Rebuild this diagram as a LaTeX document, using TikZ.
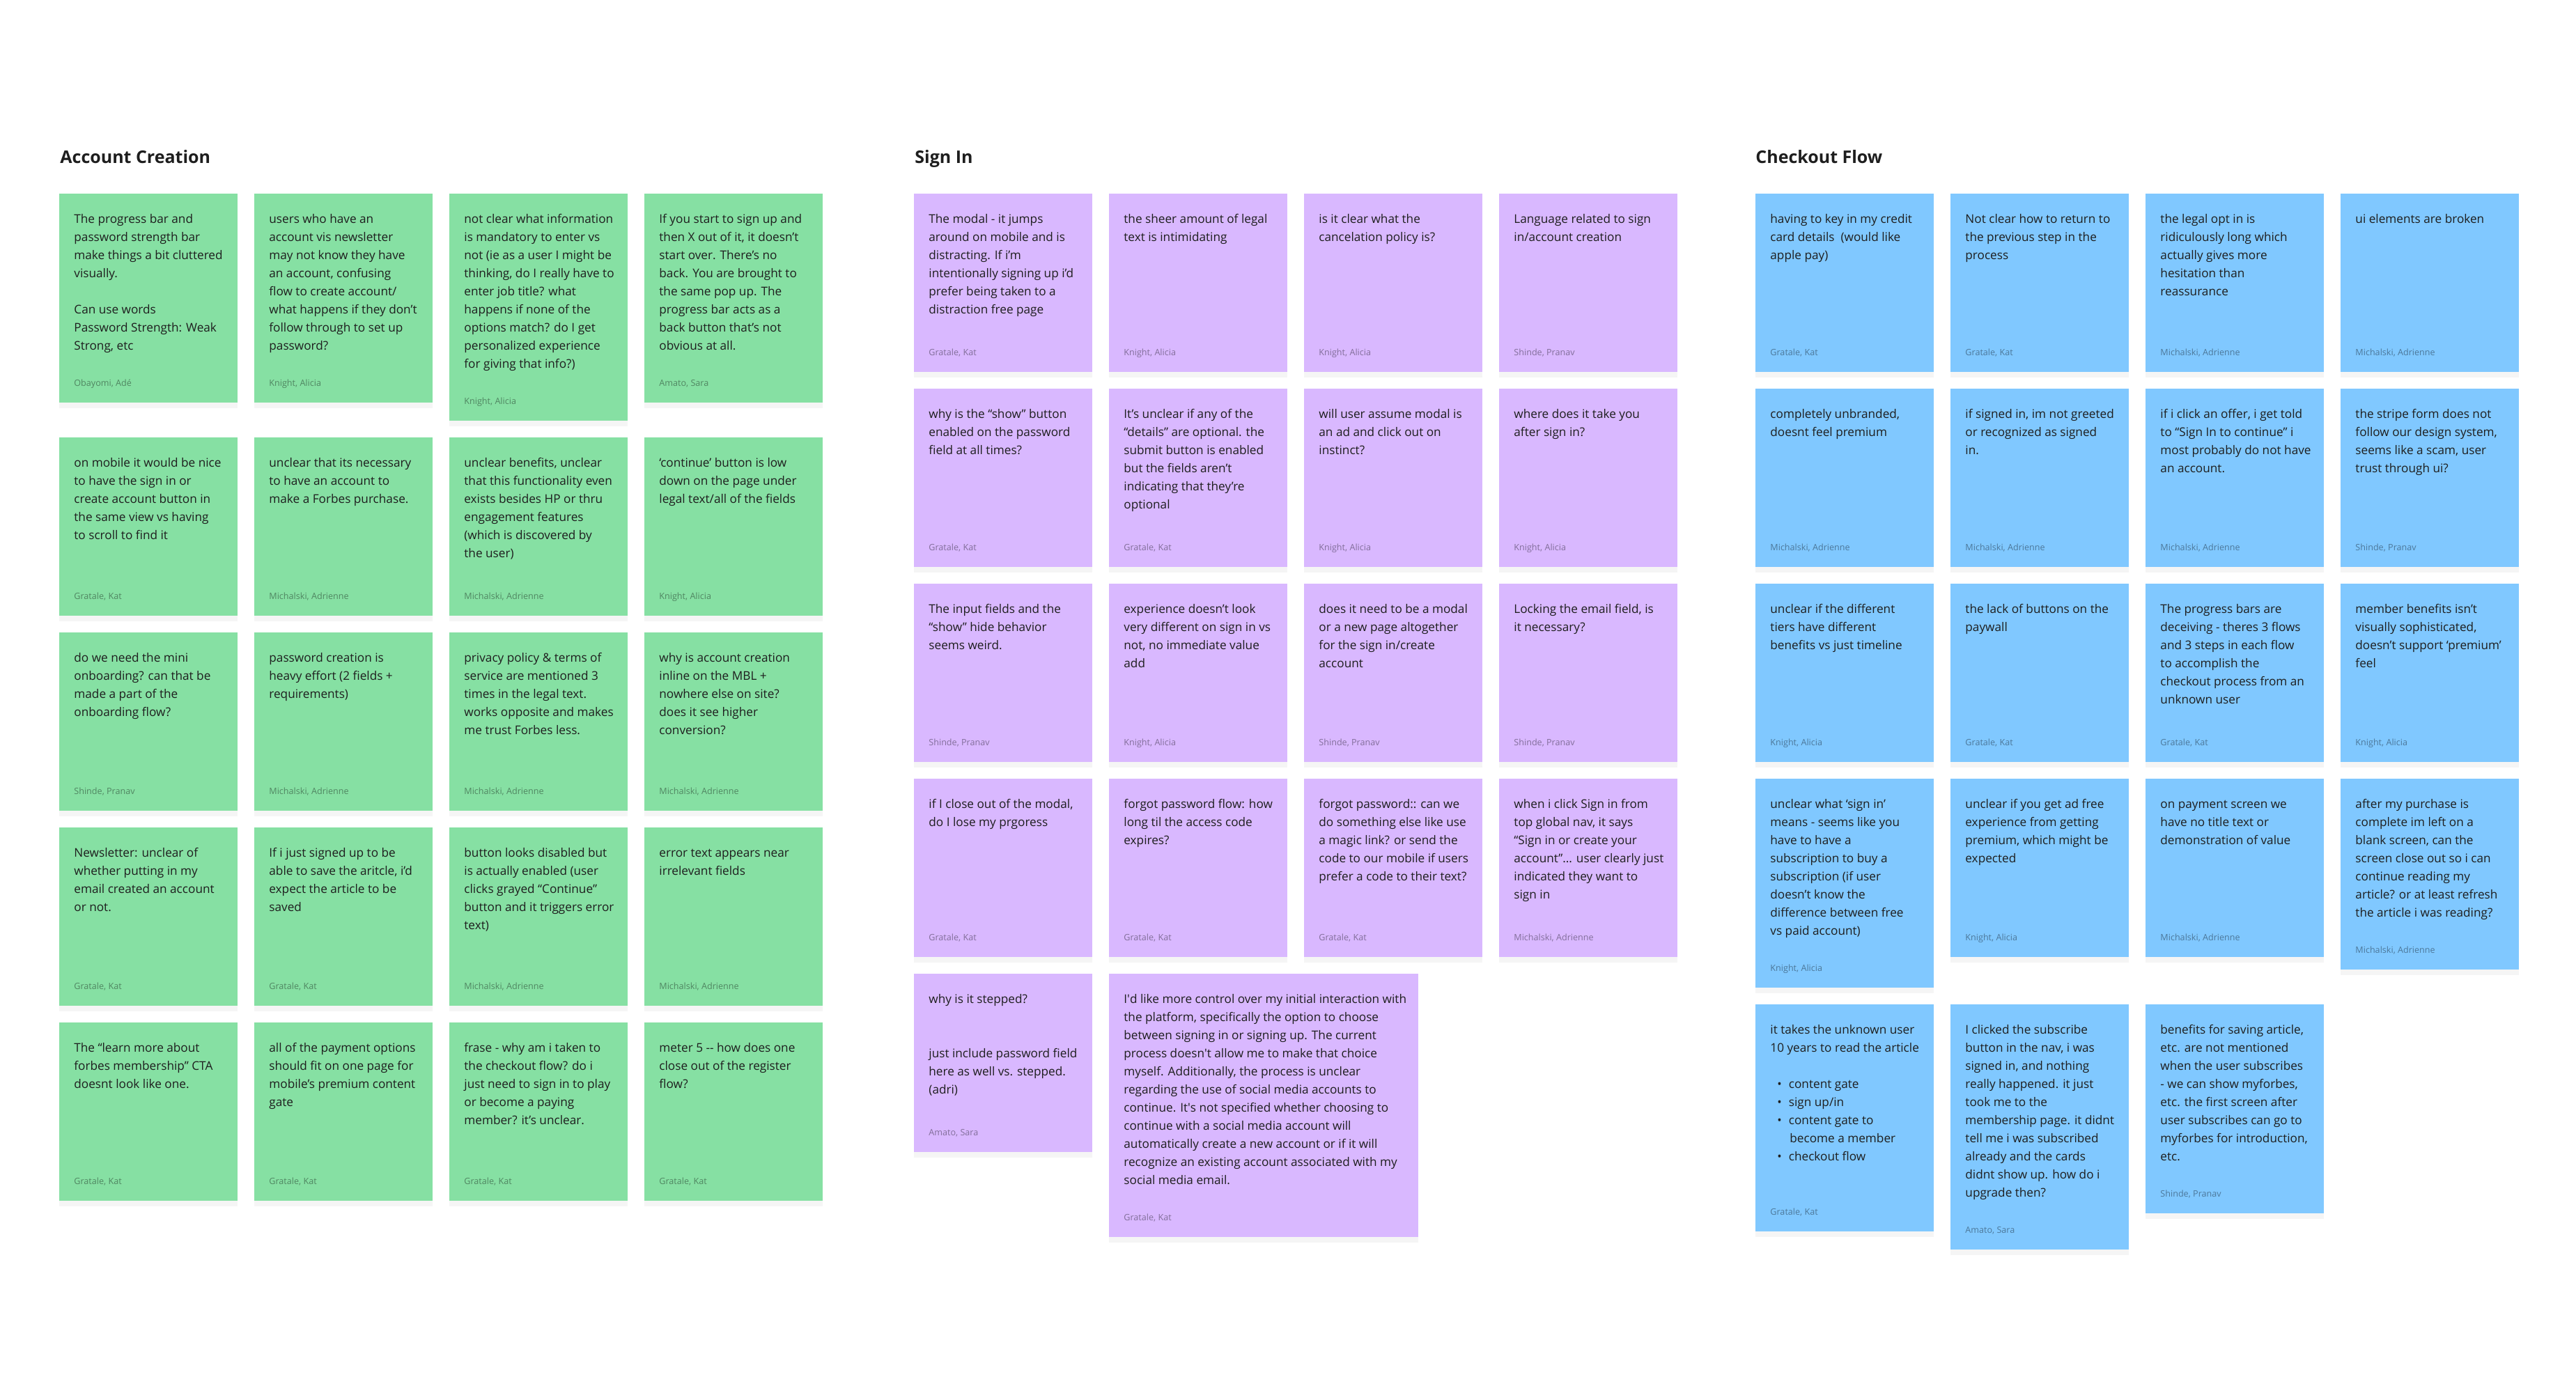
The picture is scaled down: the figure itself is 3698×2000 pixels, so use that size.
\documentclass[tikz,border=0pt]{standalone}
\usepackage{fontspec}
\setmainfont{Open Sans}
\usetikzlibrary{shadows}

\definecolor{acgreen}{HTML}{86E0A3}
\definecolor{sipurple}{HTML}{D9B8FF}
\definecolor{coblue}{HTML}{80C8FF}
\definecolor{inkdark}{HTML}{1E1E1E}

\tikzset{
  note/.style={anchor=north west, minimum width=128pt, inner sep=0pt, draw=none,
    drop shadow={opacity=0.08, shadow xshift=0pt, shadow yshift=-4pt}},
  ac/.style={note, fill=acgreen},
  si/.style={note, fill=sipurple},
  co/.style={note, fill=coblue},
  txt/.style={anchor=north west, inner sep=0pt, align=left, text=inkdark,
    font=\fontsize{8.6}{13}\selectfont},
  who/.style={anchor=base west, inner sep=0pt, text=black, text opacity=0.4,
    font=\fontsize{6.3}{8}\selectfont},
  head/.style={anchor=base west, inner sep=0pt, text=inkdark,
    font=\fontsize{12.5}{15}\selectfont\bfseries},
}

% sticky note: style, name, x, y, height, text, author
\newcommand{\sticky}[7]{%
  \node[#1, minimum height=#5*0.5pt] (#2) at (#3,#4) {};
  \node[txt] (#2t) at ([shift={(21,24)}]#2.north west) {\strut #6};
  \node[who] (#2a) at ([shift={(21,-24)}]#2.south west) {#7};
}

\begin{document}
\begin{tikzpicture}[x=0.5pt, y=-0.5pt]
  \fill[white] (0,0) rectangle (3698,2000);
  \useasboundingbox (0,0) rectangle (3698,2000);

  % group titles
  \node[head] (tac) at (86,235) {Account Creation};
  \node[head] (tsi) at (1313,235) {Sign In};
  \node[head] (tco) at (2520,235) {Checkout Flow};

  % Account Creation
  \sticky{ac}{a11}{85}{278}{300}{The progress bar and\\password strength bar\\make things a bit cluttered\\visually.\\[13pt]Can use words\\Password Strength: Weak\\Strong, etc}{Obayomi, Adé}
  \sticky{ac}{a12}{365}{278}{300}{users who have an\\account vis newsletter\\may not know they have\\an account, confusing\\flow to create account/\\what happens if they don’t\\follow through to set up\\password?}{Knight, Alicia}
  \sticky{ac}{a13}{645}{278}{326}{not clear what information\\is mandatory to enter vs\\not (ie as a user I might be\\thinking, do I really have to\\enter job title? what\\happens if none of the\\options match? do I get\\personalized experience\\for giving that info?)}{Knight, Alicia}
  \sticky{ac}{a14}{925}{278}{300}{If you start to sign up and\\then X out of it, it doesn’t\\start over. There’s no\\back. You are brought to\\the same pop up. The\\progress bar acts as a\\back button that’s not\\obvious at all.}{Amato, Sara}

  \sticky{ac}{a21}{85}{628}{256}{on mobile it would be nice\\to have the sign in or\\create account button in\\the same view vs having\\to scroll to find it}{Gratale, Kat}
  \sticky{ac}{a22}{365}{628}{256}{unclear that its necessary\\to have an account to\\make a Forbes purchase.}{Michalski, Adrienne}
  \sticky{ac}{a23}{645}{628}{256}{unclear benefits, unclear\\that this functionality even\\exists besides HP or thru\\engagement features\\(which is discovered by\\the user)}{Michalski, Adrienne}
  \sticky{ac}{a24}{925}{628}{256}{‘continue’ button is low\\down on the page under\\legal text/all of the fields}{Knight, Alicia}

  \sticky{ac}{a31}{85}{908}{256}{do we need the mini\\onboarding? can that be\\made a part of the\\onboarding flow?}{Shinde, Pranav}
  \sticky{ac}{a32}{365}{908}{256}{password creation is\\heavy effort (2 fields +\\requirements)}{Michalski, Adrienne}
  \sticky{ac}{a33}{645}{908}{256}{privacy policy \& terms of\\service are mentioned 3\\times in the legal text.\\works opposite and makes\\me trust Forbes less.}{Michalski, Adrienne}
  \sticky{ac}{a34}{925}{908}{256}{why is account creation\\inline on the MBL +\\nowhere else on site?\\does it see higher\\conversion?}{Michalski, Adrienne}

  \sticky{ac}{a41}{85}{1188}{256}{Newsletter: unclear of\\whether putting in my\\email created an account\\or not.}{Gratale, Kat}
  \sticky{ac}{a42}{365}{1188}{256}{If i just signed up to be\\able to save the aritcle, i’d\\expect the article to be\\saved}{Gratale, Kat}
  \sticky{ac}{a43}{645}{1188}{256}{button looks disabled but\\is actually enabled (user\\clicks grayed “Continue”\\button and it triggers error\\text)}{Michalski, Adrienne}
  \sticky{ac}{a44}{925}{1188}{256}{error text appears near\\irrelevant fields}{Michalski, Adrienne}

  \sticky{ac}{a51}{85}{1468}{256}{The “learn more about\\forbes membership” CTA\\doesnt look like one.}{Gratale, Kat}
  \sticky{ac}{a52}{365}{1468}{256}{all of the payment options\\should fit on one page for\\mobile’s premium content\\gate}{Gratale, Kat}
  \sticky{ac}{a53}{645}{1468}{256}{frase - why am i taken to\\the checkout flow? do i\\just need to sign in to play\\or become a paying\\member? it’s unclear.}{Gratale, Kat}
  \sticky{ac}{a54}{925}{1468}{256}{meter 5 -{}- how does one\\close out of the register\\flow?}{Gratale, Kat}

  % Sign In
  \sticky{si}{s11}{1312}{278}{256}{The modal - it jumps\\around on mobile and is\\distracting. If i’m\\intentionally signing up i’d\\prefer being taken to a\\distraction free page}{Gratale, Kat}
  \sticky{si}{s12}{1592}{278}{256}{the sheer amount of legal\\text is intimidating}{Knight, Alicia}
  \sticky{si}{s13}{1872}{278}{256}{is it clear what the\\cancelation policy is?}{Knight, Alicia}
  \sticky{si}{s14}{2152}{278}{256}{Language related to sign\\in/account creation}{Shinde, Pranav}

  \sticky{si}{s21}{1312}{558}{256}{why is the “show” button\\enabled on the password\\field at all times?}{Gratale, Kat}
  \sticky{si}{s22}{1592}{558}{256}{It’s unclear if any of the\\“details” are optional. the\\submit button is enabled\\but the fields aren’t\\indicating that they’re\\optional}{Gratale, Kat}
  \sticky{si}{s23}{1872}{558}{256}{will user assume modal is\\an ad and click out on\\instinct?}{Knight, Alicia}
  \sticky{si}{s24}{2152}{558}{256}{where does it take you\\after sign in?}{Knight, Alicia}

  \sticky{si}{s31}{1312}{838}{256}{The input fields and the\\“show” hide behavior\\seems weird.}{Shinde, Pranav}
  \sticky{si}{s32}{1592}{838}{256}{experience doesn’t look\\very different on sign in vs\\not, no immediate value\\add}{Knight, Alicia}
  \sticky{si}{s33}{1872}{838}{256}{does it need to be a modal\\or a new page altogether\\for the sign in/create\\account}{Shinde, Pranav}
  \sticky{si}{s34}{2152}{838}{256}{Locking the email field, is\\it necessary?}{Shinde, Pranav}

  \sticky{si}{s41}{1312}{1118}{256}{if I close out of the modal,\\do I lose my prgoress}{Gratale, Kat}
  \sticky{si}{s42}{1592}{1118}{256}{forgot password flow: how\\long til the access code\\expires?}{Gratale, Kat}
  \sticky{si}{s43}{1872}{1118}{256}{forgot password:: can we\\do something else like use\\a magic link? or send the\\code to our mobile if users\\prefer a code to their text?}{Gratale, Kat}
  \sticky{si}{s44}{2152}{1118}{256}{when i click Sign in from\\top global nav, it says\\“Sign in or create your\\account”... user clearly just\\indicated they want to\\sign in}{Michalski, Adrienne}

  \sticky{si}{s51}{1312}{1398}{256}{why is it stepped?\\[26pt]just include password field\\here as well vs. stepped.\\(adri)}{Amato, Sara}
  \sticky{si, minimum width=222pt}{s52}{1592}{1398}{378}{I\textquotesingle d like more control over my initial interaction with\\the platform, specifically the option to choose\\between signing in or signing up. The current\\process doesn\textquotesingle t allow me to make that choice\\myself. Additionally, the process is unclear\\regarding the use of social media accounts to\\continue. It\textquotesingle s not specified whether choosing to\\continue with a social media account will\\automatically create a new account or if it will\\recognize an existing account associated with my\\social media email.}{Gratale, Kat}

  % Checkout Flow
  \sticky{co}{c11}{2520}{278}{256}{having to key in my credit\\card details~ (would like\\apple pay)}{Gratale, Kat}
  \sticky{co}{c12}{2800}{278}{256}{Not clear how to return to\\the previous step in the\\process}{Gratale, Kat}
  \sticky{co}{c13}{3080}{278}{256}{the legal opt in is\\ridiculously long which\\actually gives more\\hesitation than\\reassurance}{Michalski, Adrienne}
  \sticky{co}{c14}{3360}{278}{256}{ui elements are broken}{Michalski, Adrienne}

  \sticky{co}{c21}{2520}{558}{256}{completely unbranded,\\doesnt feel premium}{Michalski, Adrienne}
  \sticky{co}{c22}{2800}{558}{256}{if signed in, im not greeted\\or recognized as signed\\in.}{Michalski, Adrienne}
  \sticky{co}{c23}{3080}{558}{256}{if i click an offer, i get told\\to “Sign In to continue” i\\most probably do not have\\an account.}{Michalski, Adrienne}
  \sticky{co}{c24}{3360}{558}{256}{the stripe form does not\\follow our design system,\\seems like a scam, user\\trust through ui?}{Shinde, Pranav}

  \sticky{co}{c31}{2520}{838}{256}{unclear if the different\\tiers have different\\benefits vs just timeline}{Knight, Alicia}
  \sticky{co}{c32}{2800}{838}{256}{the lack of buttons on the\\paywall}{Gratale, Kat}
  \sticky{co}{c33}{3080}{838}{256}{The progress bars are\\deceiving - theres 3 flows\\and 3 steps in each flow\\to accomplish the\\checkout process from an\\unknown user}{Gratale, Kat}
  \sticky{co}{c34}{3360}{838}{256}{member benefits isn’t\\visually sophisticated,\\doesn’t support ‘premium’\\feel}{Knight, Alicia}

  \sticky{co}{c41}{2520}{1118}{300}{unclear what ‘sign in’\\means - seems like you\\have to have a\\subscription to buy a\\subscription (if user\\doesn’t know the\\difference between free\\vs paid account)}{Knight, Alicia}
  \sticky{co}{c42}{2800}{1118}{256}{unclear if you get ad free\\experience from getting\\premium, which might be\\expected}{Knight, Alicia}
  \sticky{co}{c43}{3080}{1118}{256}{on payment screen we\\have no title text or\\demonstration of value}{Michalski, Adrienne}
  \sticky{co}{c44}{3360}{1118}{274}{after my purchase is\\complete im left on a\\blank screen, can the\\screen close out so i can\\continue reading my\\article? or at least refresh\\the article i was reading?}{Michalski, Adrienne}

  \sticky{co}{c51}{2520}{1442}{326}{it takes the unknown user\\10 years to read the article\\[13pt]\hspace*{5pt}•\hspace{5pt}content gate\\\hspace*{5pt}•\hspace{5pt}sign up/in\\\hspace*{5pt}•\hspace{5pt}content gate to\\\hspace*{14pt}become a member\\\hspace*{5pt}•\hspace{5pt}checkout flow}{Gratale, Kat}
  \sticky{co}{c52}{2800}{1442}{352}{I clicked the subscribe\\button in the nav, i was\\signed in, and nothing\\really happened. it just\\took me to the\\membership page. it didnt\\tell me i was subscribed\\already and the cards\\didnt show up. how do i\\upgrade then?}{Amato, Sara}
  \sticky{co}{c53}{3080}{1442}{300}{benefits for saving article,\\etc. are not mentioned\\when the user subscribes\\- we can show myforbes,\\etc. the first screen after\\user subscribes can go to\\myforbes for introduction,\\etc.}{Shinde, Pranav}
\end{tikzpicture}
\end{document}
